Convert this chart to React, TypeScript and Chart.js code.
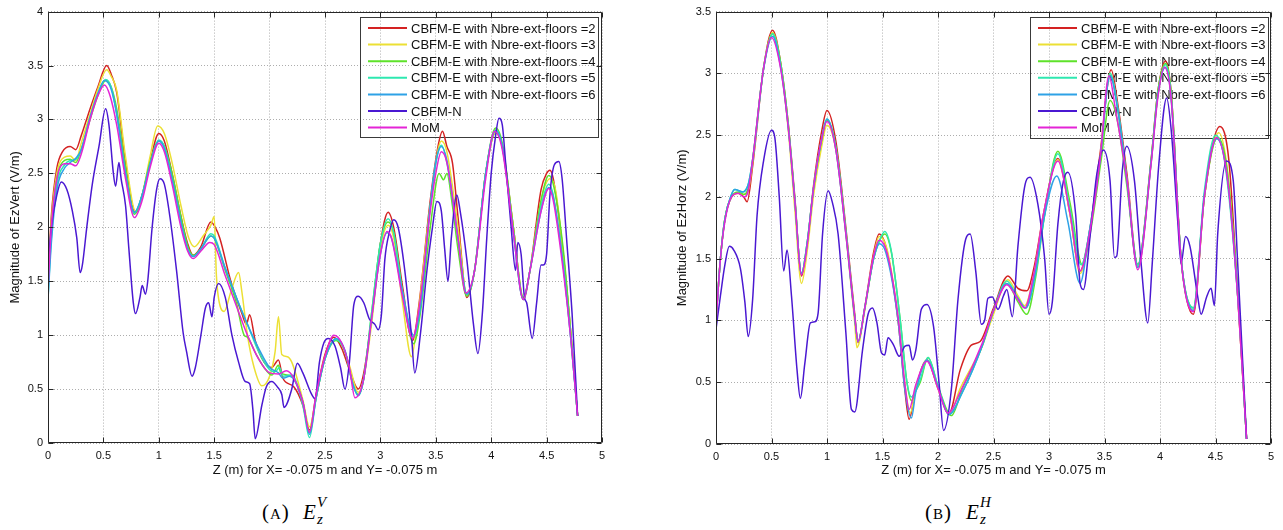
import React, { useEffect, useRef } from "react";
import { Chart, registerables } from "chart.js";

Chart.register(...registerables);

type Pt = [number, number];

const SERIES_NAMES = [
  "CBFM-E with Nbre-ext-floors =2",
  "CBFM-E with Nbre-ext-floors =3",
  "CBFM-E with Nbre-ext-floors =4",
  "CBFM-E with Nbre-ext-floors =5",
  "CBFM-E with Nbre-ext-floors =6",
  "CBFM-N",
  "MoM",
];
const SERIES_COLORS = ["#d42222", "#ece034", "#5ee22a", "#2ee8b0", "#2ea2e6", "#4a18d2", "#e424d6"];

const X_TITLE = "Z (m) for X= -0.075 m and Y= -0.075 m";
const Y_TITLE_VERT = "Magnitude of EzVert (V/m)";
const Y_TITLE_HORZ = "Magnitude of EzHorz (V/m)";
const X_MIN = 0;
const X_MAX = 5;
const TICK_STEP = 0.5;
const Y_MAX_VERT = 4;
const Y_MAX_HORZ = 3.5;

// ---------- (A) Ez Vert : [z, |E|] ----------
const vertN2: Pt[] = [[0,1.5],[0.03,2.1],[0.08,2.55],[0.13,2.7],[0.2,2.75],[0.25,2.72],[0.3,2.85],[0.38,3.1],[0.45,3.3],[0.53,3.5],[0.57,3.42],[0.62,3.25],[0.7,2.6],[0.79,2.13],[0.85,2.3],[0.92,2.6],[1.0,2.87],[1.05,2.8],[1.12,2.5],[1.2,2.1],[1.26,1.85],[1.31,1.74],[1.38,1.82],[1.47,2.05],[1.51,2.0],[1.55,1.9],[1.65,1.5],[1.75,1.2],[1.79,1.1],[1.82,1.19],[1.87,0.95],[1.95,0.75],[2.02,0.7],[2.08,0.77],[2.12,0.6],[2.22,0.52],[2.3,0.35],[2.36,0.12],[2.42,0.45],[2.5,0.82],[2.58,0.98],[2.65,0.88],[2.72,0.68],[2.8,0.5],[2.85,0.65],[2.92,1.15],[3.0,1.85],[3.07,2.14],[3.12,2.0],[3.2,1.45],[3.29,0.95],[3.35,1.3],[3.45,2.25],[3.52,2.75],[3.56,2.89],[3.6,2.75],[3.65,2.6],[3.7,2.1],[3.78,1.35],[3.85,1.6],[3.95,2.5],[4.04,2.88],[4.1,2.75],[4.2,2.0],[4.29,1.33],[4.35,1.6],[4.45,2.35],[4.5,2.5],[4.53,2.53],[4.56,2.45],[4.65,1.75],[4.72,1.0],[4.78,0.25]];
const vertN3: Pt[] = [[0,1.5],[0.03,2.05],[0.08,2.5],[0.15,2.65],[0.2,2.66],[0.25,2.62],[0.3,2.78],[0.38,3.05],[0.45,3.28],[0.53,3.46],[0.57,3.4],[0.62,3.27],[0.7,2.65],[0.79,2.15],[0.85,2.3],[0.92,2.65],[0.99,2.94],[1.05,2.87],[1.12,2.6],[1.2,2.2],[1.27,1.9],[1.32,1.82],[1.4,1.92],[1.47,2.02],[1.5,2.1],[1.52,1.55],[1.56,1.25],[1.59,1.22],[1.65,1.4],[1.72,1.58],[1.75,1.4],[1.8,1.0],[1.86,0.7],[1.93,0.53],[2.0,0.62],[2.05,0.85],[2.08,1.17],[2.11,0.82],[2.16,0.8],[2.2,0.75],[2.3,0.4],[2.36,0.15],[2.42,0.42],[2.5,0.8],[2.6,0.96],[2.65,0.92],[2.72,0.72],[2.8,0.47],[2.85,0.6],[2.92,1.1],[3.0,1.8],[3.07,2.02],[3.12,1.9],[3.2,1.3],[3.28,0.8],[3.33,1.1],[3.45,2.2],[3.55,2.8],[3.6,2.7],[3.7,2.0],[3.78,1.38],[3.85,1.6],[3.95,2.5],[4.04,2.88],[4.1,2.75],[4.2,2.0],[4.29,1.35],[4.35,1.6],[4.45,2.25],[4.53,2.45],[4.58,2.35],[4.65,1.75],[4.72,1.0],[4.78,0.25]];
const vertN4: Pt[] = [[0,1.45],[0.03,2.0],[0.08,2.45],[0.15,2.62],[0.2,2.63],[0.25,2.6],[0.3,2.72],[0.38,3.0],[0.45,3.22],[0.52,3.36],[0.57,3.3],[0.62,3.1],[0.7,2.55],[0.78,2.12],[0.85,2.3],[0.92,2.6],[1.0,2.8],[1.05,2.75],[1.12,2.5],[1.2,2.1],[1.26,1.83],[1.31,1.74],[1.38,1.8],[1.47,1.92],[1.5,1.9],[1.6,1.6],[1.7,1.3],[1.77,1.0],[1.8,0.98],[1.88,0.82],[1.95,0.7],[2.02,0.63],[2.08,0.72],[2.1,0.65],[2.2,0.62],[2.3,0.38],[2.36,0.1],[2.42,0.42],[2.5,0.78],[2.6,0.95],[2.68,0.85],[2.75,0.55],[2.8,0.45],[2.85,0.6],[2.92,1.2],[3.0,1.85],[3.07,2.05],[3.12,1.95],[3.2,1.4],[3.3,0.92],[3.36,1.2],[3.45,2.0],[3.53,2.5],[3.57,2.44],[3.6,2.5],[3.65,2.2],[3.7,1.8],[3.78,1.36],[3.85,1.6],[3.95,2.5],[4.04,2.92],[4.1,2.78],[4.2,2.0],[4.29,1.35],[4.35,1.6],[4.45,2.25],[4.52,2.48],[4.56,2.4],[4.65,1.8],[4.72,1.0],[4.78,0.25]];
const vertN5: Pt[] = [[0,1.35],[0.03,1.9],[0.08,2.4],[0.15,2.58],[0.2,2.62],[0.25,2.63],[0.3,2.72],[0.38,3.02],[0.45,3.24],[0.52,3.37],[0.57,3.3],[0.62,3.05],[0.7,2.5],[0.78,2.13],[0.85,2.3],[0.92,2.58],[1.0,2.81],[1.05,2.75],[1.12,2.45],[1.2,2.05],[1.26,1.8],[1.31,1.73],[1.38,1.8],[1.47,1.94],[1.5,1.92],[1.6,1.62],[1.7,1.35],[1.8,1.1],[1.9,0.85],[2.0,0.68],[2.05,0.66],[2.09,0.7],[2.12,0.62],[2.2,0.63],[2.3,0.35],[2.36,0.05],[2.42,0.42],[2.5,0.78],[2.6,0.96],[2.68,0.85],[2.75,0.55],[2.8,0.44],[2.85,0.6],[2.92,1.2],[3.0,1.85],[3.07,2.08],[3.12,1.95],[3.2,1.4],[3.3,0.98],[3.36,1.25],[3.45,2.2],[3.5,2.6],[3.55,2.76],[3.6,2.6],[3.7,1.9],[3.78,1.38],[3.85,1.6],[3.95,2.5],[4.04,2.9],[4.1,2.75],[4.2,1.95],[4.29,1.33],[4.35,1.6],[4.45,2.2],[4.52,2.4],[4.56,2.3],[4.65,1.65],[4.72,0.95],[4.78,0.25]];
const vertN6: Pt[] = [[0,1.33],[0.03,1.85],[0.08,2.35],[0.15,2.55],[0.2,2.6],[0.25,2.64],[0.3,2.72],[0.38,3.02],[0.45,3.24],[0.51,3.36],[0.57,3.28],[0.62,3.05],[0.7,2.5],[0.78,2.14],[0.85,2.3],[0.92,2.58],[1.0,2.8],[1.05,2.73],[1.12,2.45],[1.2,2.05],[1.26,1.8],[1.31,1.73],[1.38,1.8],[1.47,1.92],[1.5,1.9],[1.6,1.62],[1.7,1.35],[1.8,1.1],[1.9,0.88],[2.0,0.7],[2.08,0.65],[2.12,0.6],[2.18,0.62],[2.3,0.38],[2.36,0.08],[2.42,0.42],[2.5,0.78],[2.6,0.97],[2.68,0.86],[2.75,0.55],[2.8,0.44],[2.85,0.6],[2.92,1.15],[3.0,1.75],[3.06,1.95],[3.1,1.9],[3.2,1.4],[3.3,1.0],[3.36,1.25],[3.45,2.2],[3.5,2.6],[3.55,2.75],[3.6,2.62],[3.7,1.9],[3.78,1.38],[3.85,1.6],[3.95,2.5],[4.04,2.9],[4.1,2.75],[4.2,1.95],[4.29,1.33],[4.35,1.6],[4.45,2.15],[4.52,2.37],[4.56,2.28],[4.65,1.65],[4.72,0.95],[4.78,0.25]];
const vertCbfmN: Pt[] = [[0,1.65],[0.03,2.0],[0.08,2.3],[0.12,2.42],[0.17,2.35],[0.22,2.15],[0.26,1.9],[0.29,1.58],[0.31,1.65],[0.35,2.0],[0.4,2.4],[0.46,2.75],[0.52,3.1],[0.55,2.95],[0.59,2.5],[0.61,2.38],[0.64,2.6],[0.66,2.45],[0.7,2.2],[0.73,1.8],[0.77,1.3],[0.79,1.2],[0.83,1.35],[0.85,1.46],[0.88,1.38],[0.9,1.5],[0.94,2.0],[0.98,2.35],[1.01,2.45],[1.05,2.4],[1.1,2.1],[1.16,1.6],[1.22,1.02],[1.25,0.85],[1.3,0.62],[1.33,0.7],[1.38,1.0],[1.42,1.25],[1.45,1.3],[1.48,1.17],[1.5,1.35],[1.54,1.48],[1.6,1.35],[1.66,1.0],[1.72,0.75],[1.78,0.57],[1.82,0.55],[1.85,0.3],[1.87,0.04],[1.93,0.35],[1.97,0.52],[2.02,0.57],[2.07,0.52],[2.11,0.45],[2.13,0.33],[2.2,0.5],[2.25,0.74],[2.3,0.65],[2.38,0.45],[2.41,0.41],[2.45,0.75],[2.49,0.93],[2.53,0.97],[2.59,0.9],[2.64,0.7],[2.68,0.5],[2.72,0.75],[2.76,1.28],[2.8,1.36],[2.85,1.3],[2.9,1.15],[2.95,1.1],[2.98,1.05],[3.01,1.2],[3.04,1.7],[3.08,1.95],[3.12,2.07],[3.16,2.0],[3.22,1.6],[3.28,1.0],[3.31,0.65],[3.36,1.0],[3.42,1.6],[3.47,2.0],[3.51,2.24],[3.55,2.15],[3.58,1.8],[3.61,1.5],[3.64,1.9],[3.69,2.3],[3.72,2.15],[3.78,1.7],[3.84,1.1],[3.88,0.83],[3.92,1.2],[3.96,1.9],[4.0,2.5],[4.04,2.85],[4.07,3.01],[4.1,2.95],[4.13,2.6],[4.18,2.0],[4.22,1.6],[4.24,1.86],[4.27,1.75],[4.3,1.35],[4.32,1.3],[4.37,0.97],[4.41,1.3],[4.45,1.65],[4.47,1.65],[4.5,1.75],[4.53,2.3],[4.57,2.58],[4.61,2.61],[4.64,2.45],[4.68,1.9],[4.73,1.2],[4.78,0.25]];
const vertMoM: Pt[] = [[0,1.42],[0.03,2.0],[0.08,2.45],[0.15,2.59],[0.2,2.59],[0.25,2.57],[0.3,2.68],[0.38,3.0],[0.45,3.22],[0.51,3.32],[0.56,3.22],[0.62,2.95],[0.7,2.45],[0.78,2.09],[0.85,2.25],[0.92,2.55],[1.0,2.78],[1.05,2.7],[1.12,2.4],[1.2,2.0],[1.26,1.78],[1.31,1.71],[1.38,1.78],[1.46,1.86],[1.5,1.84],[1.6,1.55],[1.7,1.27],[1.8,1.0],[1.9,0.78],[2.0,0.65],[2.08,0.64],[2.15,0.67],[2.22,0.6],[2.3,0.38],[2.36,0.1],[2.42,0.45],[2.5,0.8],[2.58,1.0],[2.65,0.93],[2.72,0.7],[2.77,0.42],[2.85,0.6],[2.92,1.15],[3.0,1.75],[3.06,1.96],[3.1,1.9],[3.2,1.35],[3.29,0.97],[3.35,1.25],[3.45,2.15],[3.5,2.5],[3.55,2.7],[3.6,2.6],[3.7,1.9],[3.77,1.39],[3.85,1.6],[3.95,2.45],[4.03,2.89],[4.1,2.72],[4.2,1.95],[4.29,1.33],[4.35,1.6],[4.45,2.15],[4.52,2.36],[4.56,2.25],[4.65,1.6],[4.72,0.95],[4.78,0.25]];

// ---------- (B) Ez Horz : [z, |E|] ----------
const horzN2: Pt[] = [[0,1.0],[0.04,1.5],[0.08,1.82],[0.14,2.0],[0.2,2.03],[0.25,2.0],[0.28,1.96],[0.33,2.25],[0.43,3.05],[0.51,3.35],[0.58,3.1],[0.65,2.6],[0.71,2.0],[0.77,1.36],[0.82,1.6],[0.88,2.1],[0.95,2.52],[1.0,2.7],[1.08,2.45],[1.17,1.75],[1.25,1.05],[1.28,0.82],[1.34,1.1],[1.42,1.55],[1.47,1.7],[1.53,1.6],[1.64,1.0],[1.7,0.45],[1.74,0.2],[1.8,0.45],[1.9,0.68],[2.0,0.45],[2.1,0.25],[2.2,0.6],[2.3,0.8],[2.38,0.83],[2.5,1.1],[2.63,1.36],[2.72,1.26],[2.8,1.24],[2.87,1.45],[2.95,1.86],[3.08,2.31],[3.19,1.86],[3.28,1.4],[3.37,1.75],[3.46,2.35],[3.56,3.03],[3.62,2.75],[3.7,2.2],[3.8,1.45],[3.92,2.3],[3.98,2.85],[4.05,3.1],[4.1,2.85],[4.19,1.5],[4.3,1.05],[4.4,2.0],[4.54,2.57],[4.62,2.3],[4.7,1.2],[4.78,0.04]];
const horzN3: Pt[] = [[0,1.0],[0.04,1.5],[0.08,1.82],[0.14,2.0],[0.2,2.03],[0.25,2.02],[0.29,2.05],[0.33,2.28],[0.43,3.05],[0.51,3.33],[0.58,3.08],[0.65,2.55],[0.71,1.9],[0.77,1.3],[0.82,1.55],[0.88,2.02],[0.95,2.4],[1.0,2.58],[1.08,2.38],[1.17,1.7],[1.25,0.98],[1.27,0.78],[1.34,1.08],[1.42,1.52],[1.47,1.68],[1.54,1.58],[1.64,1.02],[1.7,0.5],[1.75,0.25],[1.8,0.45],[1.9,0.68],[2.0,0.45],[2.1,0.24],[2.2,0.45],[2.3,0.62],[2.38,0.75],[2.5,1.05],[2.63,1.33],[2.72,1.2],[2.78,1.12],[2.87,1.4],[2.95,1.85],[3.08,2.3],[3.19,1.85],[3.28,1.38],[3.37,1.73],[3.46,2.3],[3.55,3.0],[3.62,2.7],[3.7,2.15],[3.8,1.43],[3.92,2.28],[3.98,2.82],[4.05,3.08],[4.1,2.82],[4.19,1.5],[4.3,1.08],[4.4,2.0],[4.53,2.52],[4.61,2.2],[4.7,1.2],[4.78,0.04]];
const horzN4: Pt[] = [[0,1.0],[0.04,1.5],[0.08,1.82],[0.14,2.0],[0.2,2.04],[0.25,2.02],[0.29,2.07],[0.33,2.3],[0.43,3.05],[0.51,3.32],[0.58,3.1],[0.65,2.6],[0.71,1.98],[0.77,1.38],[0.82,1.62],[0.88,2.08],[0.95,2.45],[1.0,2.62],[1.08,2.4],[1.17,1.72],[1.25,1.03],[1.28,0.83],[1.34,1.1],[1.42,1.5],[1.47,1.64],[1.52,1.7],[1.58,1.55],[1.66,1.0],[1.72,0.5],[1.76,0.35],[1.8,0.43],[1.84,0.5],[1.91,0.7],[2.0,0.47],[2.12,0.23],[2.22,0.45],[2.4,0.8],[2.5,1.08],[2.62,1.3],[2.72,1.15],[2.8,1.05],[2.88,1.35],[2.96,1.85],[3.08,2.37],[3.19,1.95],[3.3,1.45],[3.38,1.75],[3.47,2.3],[3.55,2.78],[3.62,2.6],[3.7,2.1],[3.8,1.45],[3.92,2.3],[3.98,2.85],[4.05,3.08],[4.1,2.85],[4.19,1.5],[4.3,1.1],[4.4,2.0],[4.52,2.48],[4.6,2.25],[4.7,1.25],[4.78,0.04]];
const horzN5: Pt[] = [[0,1.0],[0.04,1.5],[0.08,1.82],[0.14,2.02],[0.17,2.06],[0.24,2.04],[0.29,2.1],[0.33,2.3],[0.43,3.05],[0.51,3.32],[0.58,3.08],[0.65,2.58],[0.71,1.98],[0.77,1.38],[0.82,1.62],[0.88,2.08],[0.95,2.46],[1.0,2.63],[1.08,2.4],[1.17,1.72],[1.25,1.03],[1.28,0.83],[1.34,1.1],[1.42,1.5],[1.47,1.64],[1.52,1.72],[1.58,1.56],[1.66,1.0],[1.72,0.5],[1.76,0.38],[1.8,0.43],[1.84,0.52],[1.91,0.7],[2.0,0.47],[2.1,0.24],[2.22,0.42],[2.4,0.8],[2.5,1.08],[2.62,1.32],[2.72,1.18],[2.79,1.1],[2.88,1.38],[2.96,1.85],[3.08,2.35],[3.19,1.9],[3.29,1.45],[3.37,1.75],[3.46,2.3],[3.55,3.0],[3.62,2.72],[3.7,2.15],[3.8,1.45],[3.92,2.28],[3.98,2.82],[4.05,3.07],[4.1,2.82],[4.19,1.5],[4.3,1.1],[4.4,2.05],[4.5,2.5],[4.58,2.3],[4.7,1.2],[4.78,0.04]];
const horzN6: Pt[] = [[0,1.0],[0.04,1.5],[0.08,1.82],[0.14,2.02],[0.17,2.06],[0.24,2.04],[0.29,2.1],[0.33,2.3],[0.43,3.04],[0.51,3.3],[0.58,3.06],[0.65,2.57],[0.71,1.97],[0.77,1.38],[0.82,1.62],[0.88,2.08],[0.95,2.46],[1.0,2.63],[1.08,2.38],[1.17,1.7],[1.25,1.02],[1.28,0.83],[1.34,1.1],[1.42,1.5],[1.47,1.62],[1.53,1.55],[1.64,1.0],[1.7,0.45],[1.76,0.21],[1.8,0.42],[1.9,0.68],[2.0,0.46],[2.1,0.24],[2.22,0.42],[2.4,0.8],[2.5,1.08],[2.62,1.3],[2.72,1.18],[2.79,1.1],[2.88,1.4],[2.96,1.85],[3.07,2.17],[3.17,1.8],[3.28,1.3],[3.36,1.7],[3.46,2.3],[3.55,2.98],[3.62,2.7],[3.7,2.15],[3.8,1.43],[3.92,2.28],[3.98,2.82],[4.05,3.05],[4.1,2.8],[4.19,1.5],[4.3,1.08],[4.4,2.02],[4.51,2.47],[4.6,2.2],[4.7,1.2],[4.78,0.04]];
const horzCbfmN: Pt[] = [[0,0.93],[0.04,1.2],[0.08,1.45],[0.12,1.6],[0.16,1.57],[0.22,1.42],[0.26,1.15],[0.29,0.87],[0.33,1.17],[0.37,1.85],[0.43,2.3],[0.5,2.54],[0.53,2.48],[0.57,2.0],[0.61,1.4],[0.64,1.57],[0.68,1.2],[0.73,0.6],[0.76,0.37],[0.8,0.65],[0.85,0.98],[0.89,0.99],[0.92,1.06],[0.96,1.7],[1.01,2.05],[1.05,1.95],[1.1,1.7],[1.17,0.9],[1.22,0.28],[1.25,0.26],[1.32,0.76],[1.37,1.05],[1.41,1.1],[1.45,0.98],[1.49,0.74],[1.52,0.72],[1.55,0.86],[1.6,0.8],[1.65,0.71],[1.7,0.79],[1.74,0.8],[1.77,0.68],[1.8,0.76],[1.85,1.09],[1.9,1.13],[1.96,0.95],[2.01,0.49],[2.05,0.11],[2.12,0.44],[2.18,1.17],[2.25,1.66],[2.29,1.7],[2.34,1.4],[2.39,0.97],[2.42,1.0],[2.45,1.18],[2.49,1.19],[2.54,1.09],[2.59,1.2],[2.62,1.25],[2.67,1.03],[2.72,1.6],[2.78,2.08],[2.83,2.16],[2.9,1.94],[2.96,1.51],[3.0,1.05],[3.03,1.15],[3.08,1.78],[3.13,2.13],[3.17,2.2],[3.24,1.86],[3.28,1.3],[3.31,1.25],[3.37,1.68],[3.43,2.18],[3.49,2.38],[3.55,2.13],[3.59,1.51],[3.61,1.52],[3.66,2.21],[3.7,2.41],[3.77,2.13],[3.83,1.46],[3.89,0.98],[3.93,1.46],[3.99,2.27],[4.06,2.8],[4.1,2.55],[4.16,1.8],[4.19,1.46],[4.23,1.68],[4.27,1.6],[4.34,1.19],[4.37,1.05],[4.42,1.19],[4.46,1.26],[4.49,1.12],[4.52,1.7],[4.6,2.29],[4.66,2.13],[4.7,1.46],[4.78,0.04]];
const horzMoM: Pt[] = [[0,0.98],[0.04,1.5],[0.08,1.8],[0.14,2.0],[0.2,2.03],[0.25,2.0],[0.29,2.05],[0.33,2.3],[0.43,3.05],[0.5,3.29],[0.58,3.05],[0.65,2.57],[0.71,1.97],[0.77,1.37],[0.82,1.6],[0.88,2.08],[0.95,2.46],[1.0,2.61],[1.08,2.38],[1.17,1.7],[1.25,1.03],[1.28,0.83],[1.34,1.1],[1.42,1.52],[1.47,1.65],[1.54,1.55],[1.64,1.03],[1.7,0.5],[1.74,0.28],[1.8,0.48],[1.9,0.67],[2.0,0.45],[2.09,0.25],[2.2,0.42],[2.4,0.82],[2.5,1.08],[2.62,1.29],[2.7,1.2],[2.78,1.1],[2.87,1.41],[2.95,1.86],[3.08,2.29],[3.19,1.86],[3.28,1.4],[3.37,1.73],[3.46,2.3],[3.54,2.98],[3.6,2.7],[3.7,2.15],[3.8,1.41],[3.92,2.27],[3.98,2.8],[4.04,3.05],[4.1,2.8],[4.19,1.49],[4.3,1.07],[4.4,2.0],[4.51,2.48],[4.61,2.13],[4.7,1.19],[4.78,0.04]];

const VERT_SERIES = [vertN2, vertN3, vertN4, vertN5, vertN6, vertCbfmN, vertMoM];
const HORZ_SERIES = [horzN2, horzN3, horzN4, horzN5, horzN6, horzCbfmN, horzMoM];

const SANS = '"Liberation Sans", Arial, Helvetica, sans-serif';
const SERIF = '"Liberation Serif", "DejaVu Serif", serif';

interface Geom {
  offsetX: number;
  width: number;
  height: number;
  left: number;
  right: number;
  top: number;
  bottom: number;
  legendX: number;
  legendY: number;
  legendW: number;
  legendH: number;
  yTitleX: number;
}

const GEOM_VERT: Geom = { offsetX: 0, width: 640, height: 480, left: 48, right: 602, top: 11, bottom: 443, legendX: 360, legendY: 17, legendW: 238, legendH: 120, yTitleX: 15 };
const GEOM_HORZ: Geom = { offsetX: 640, width: 643, height: 480, left: 76, right: 631, top: 11, bottom: 444, legendX: 390, legendY: 17, legendW: 238, legendH: 121, yTitleX: 42 };

const fmtTick = (v: number | string) => String(Math.round(Number(v) * 100) / 100);

function LineChart({ series, yMax, yTitle, geom }: { series: Pt[][]; yMax: number; yTitle: string; geom: Geom }) {
  const ref = useRef<HTMLCanvasElement | null>(null);

  useEffect(() => {
    const canvas = ref.current;
    if (!canvas) return;

    const decor = {
      id: "decor",
      beforeDatasetsDraw(chart: any) {
        const ctx = chart.ctx as CanvasRenderingContext2D;
        ctx.save();
        ctx.strokeStyle = "#3a3a3a";
        ctx.lineWidth = 1;
        ctx.strokeRect(geom.legendX + 0.5, geom.legendY + 0.5, geom.legendW, geom.legendH);
        ctx.font = `13px ${SANS}`;
        ctx.textBaseline = "middle";
        ctx.textAlign = "left";
        SERIES_NAMES.forEach((name, i) => {
          const y = geom.legendY + 11 + i * 16.6;
          ctx.strokeStyle = SERIES_COLORS[i];
          ctx.lineWidth = 2;
          ctx.beginPath();
          ctx.moveTo(geom.legendX + 8, y);
          ctx.lineTo(geom.legendX + 47, y);
          ctx.stroke();
          ctx.fillStyle = "#111";
          ctx.fillText(name, geom.legendX + 51, y + 1);
        });
        ctx.restore();
      },
      afterDatasetsDraw(chart: any) {
        const ctx = chart.ctx as CanvasRenderingContext2D;
        const a = chart.chartArea;
        const xs = chart.scales.x;
        const ys = chart.scales.y;
        ctx.save();
        ctx.strokeStyle = "#262626";
        ctx.lineWidth = 1;
        const L = Math.round(a.left) + 0.5;
        const R = Math.round(a.right) - 0.5;
        const T = Math.round(a.top) + 0.5;
        const B = Math.round(a.bottom) - 0.5;
        ctx.beginPath();
        ctx.rect(L, T, R - L, B - T);
        xs.ticks.forEach((t: any) => {
          const px = Math.round(xs.getPixelForValue(t.value)) + 0.5;
          ctx.moveTo(px, B);
          ctx.lineTo(px, B - 5);
          ctx.moveTo(px, T);
          ctx.lineTo(px, T + 5);
        });
        ys.ticks.forEach((t: any) => {
          const py = Math.round(ys.getPixelForValue(t.value)) + 0.5;
          ctx.moveTo(L, py);
          ctx.lineTo(L + 5, py);
          ctx.moveTo(R, py);
          ctx.lineTo(R - 5, py);
        });
        ctx.stroke();
        ctx.fillStyle = "#111";
        ctx.font = `13px ${SANS}`;
        ctx.textAlign = "center";
        ctx.textBaseline = "middle";
        ctx.fillText(X_TITLE, (a.left + a.right) / 2, 470);
        ctx.translate(geom.yTitleX, (a.top + a.bottom) / 2);
        ctx.rotate(-Math.PI / 2);
        ctx.fillText(yTitle, 0, 0);
        ctx.restore();
      },
    };

    const chart = new Chart(canvas, {
      type: "line",
      data: {
        datasets: series.map((s, i) => ({
          label: SERIES_NAMES[i],
          data: s.map(([x, y]) => ({ x, y })),
          borderColor: SERIES_COLORS[i],
          backgroundColor: SERIES_COLORS[i],
          borderWidth: 1.5,
          pointRadius: 0,
          pointHoverRadius: 0,
          fill: false,
          cubicInterpolationMode: "monotone" as const,
          order: SERIES_NAMES.length - 1 - i,
        })),
      },
      options: {
        animation: false,
        responsive: false,
        maintainAspectRatio: false,
        devicePixelRatio: 1,
        events: [],
        layout: { padding: { left: 0, top: geom.top, right: geom.width - geom.right, bottom: 0 } },
        plugins: { legend: { display: false }, tooltip: { enabled: false }, title: { display: false } },
        scales: {
          x: {
            type: "linear",
            min: X_MIN,
            max: X_MAX,
            ticks: { stepSize: TICK_STEP, autoSkip: false, maxRotation: 0, padding: 6, color: "#111", font: { family: SANS, size: 11 }, callback: fmtTick },
            grid: { color: "rgba(0,0,0,0.32)", lineWidth: 1, drawTicks: false },
            border: { display: false, dash: [1, 2] },
            afterFit: (s: any) => { s.height = geom.height - geom.bottom; },
          },
          y: {
            type: "linear",
            min: 0,
            max: yMax,
            ticks: { stepSize: TICK_STEP, autoSkip: false, padding: 5, color: "#111", font: { family: SANS, size: 11 }, callback: fmtTick },
            grid: { color: "rgba(0,0,0,0.32)", lineWidth: 1, drawTicks: false },
            border: { display: false, dash: [1, 2] },
            afterFit: (s: any) => { s.width = geom.left; },
          },
        },
      },
      plugins: [decor],
    } as any);

    return () => chart.destroy();
  }, [series, yMax, yTitle, geom]);

  return (
    <canvas
      ref={ref}
      width={geom.width}
      height={geom.height}
      style={{ position: "absolute", left: geom.offsetX, top: 0, width: geom.width, height: geom.height }}
    />
  );
}

function Caption({ left, letter, sup }: { left: number; letter: string; sup: string }) {
  const piece = (x: number, top: number, size: number, italic: boolean, content: React.ReactNode, extra: React.CSSProperties = {}) => (
    <span
      style={{
        position: "absolute",
        left: left + x,
        top,
        fontFamily: SERIF,
        fontSize: size,
        lineHeight: `${size}px`,
        fontStyle: italic ? "italic" : "normal",
        color: "#000",
        whiteSpace: "nowrap",
        ...extra,
      }}
    >
      {content}
    </span>
  );
  return (
    <>
      {piece(0, 502, 21, false, <>(<span style={{ fontVariant: "small-caps", letterSpacing: 1 }}>{letter}</span>)</>, { letterSpacing: 1 })}
      {piece(41, 502, 21, true, "E")}
      {piece(55, 495, 15, true, sup)}
      {piece(55, 512, 15, true, "z")}
    </>
  );
}

export default function App() {
  return (
    <div style={{ position: "absolute", left: 0, top: 0, width: 1283, height: 530, background: "#fff", overflow: "hidden" }}>
      <LineChart series={VERT_SERIES} yMax={Y_MAX_VERT} yTitle={Y_TITLE_VERT} geom={GEOM_VERT} />
      <LineChart series={HORZ_SERIES} yMax={Y_MAX_HORZ} yTitle={Y_TITLE_HORZ} geom={GEOM_HORZ} />
      <Caption left={262} letter="a" sup="V" />
      <Caption left={925} letter="b" sup="H" />
    </div>
  );
}
